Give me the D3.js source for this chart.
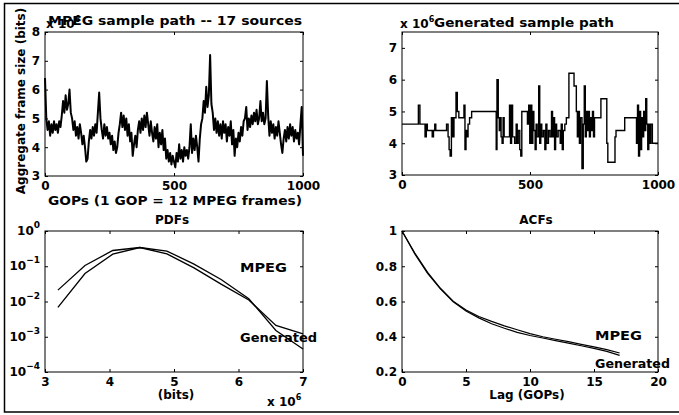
<!DOCTYPE html>
<html lang="en">
<head>
<meta charset="UTF-8">
<title>MPEG sample paths</title>
<script src="https://cdn.jsdelivr.net/npm/d3@7"></script>
<style>
  * { margin: 0; padding: 0; }
  body { background: #fff; }
  text { font-family: "DejaVu Sans", Arial, sans-serif; font-weight: bold; font-size: 12px; fill: #000; }
</style>
</head>
<body>
<script>
// MPEG aggregate frame size, one value every 5 GOPs (x 1e6 bits)
const mpegPath = [
  6.4, 5.0, 4.6, 4.9, 4.4, 4.8, 4.5, 4.9, 4.6, 4.8,
  4.5, 4.9, 4.7, 5.1, 5.6, 5.2, 5.8, 5.3, 5.5, 6.0,
  5.2, 5.0, 4.6, 4.9, 4.4, 4.7, 4.3, 4.8, 4.5, 4.1,
  4.4, 4.0, 3.5, 3.6, 4.2, 4.6, 4.3, 4.7, 4.4, 4.8,
  4.5, 5.2, 5.9, 5.0, 4.6, 4.3, 4.8, 4.4, 4.7, 4.3,
  4.5, 4.1, 4.4, 3.9, 4.2, 3.8, 4.0, 4.5, 4.8, 5.2,
  4.7, 5.1, 4.6, 5.0, 4.4, 4.8, 4.2, 4.5, 3.7, 4.1,
  4.4, 4.0, 4.6, 4.9, 4.5, 5.0, 4.6, 5.1, 4.7, 5.2,
  4.8, 4.4, 4.9, 4.5, 4.2, 4.7, 4.3, 4.8, 4.0, 4.5,
  4.1, 4.6, 3.9, 4.3, 3.6, 3.9, 3.5, 3.8, 3.4, 3.7,
  3.5, 3.3, 3.8, 3.5, 4.1, 3.6, 3.9, 3.5, 4.0, 3.7,
  3.9, 3.6, 4.0, 4.8, 3.8, 4.3, 3.9, 4.4, 4.0, 3.5,
  4.3, 4.8, 5.0, 5.6, 5.2, 6.1, 5.4, 5.8, 7.2, 5.5,
  5.2, 4.6, 5.0, 4.5, 4.9, 4.4, 4.8, 4.3, 4.9, 4.5,
  4.8, 4.2, 4.7, 4.4, 4.9, 4.1, 4.6, 3.7, 4.3, 4.0,
  4.5, 4.2, 4.7, 4.4, 4.9, 5.0, 5.4, 4.6, 5.0, 4.7,
  5.1, 4.8, 5.2, 4.9, 5.3, 4.8, 5.0, 5.6, 4.9, 5.2,
  4.8, 5.0, 6.3, 5.1, 4.4, 4.9, 4.5, 4.8, 4.3, 4.7,
  4.4, 4.9, 4.5, 4.1, 3.8, 4.3, 4.6, 4.2, 4.7, 4.3,
  4.8, 4.4, 4.7, 4.2, 4.6, 4.3, 4.5, 4.1, 4.8, 5.4,
  3.7
];
const mpegGop = d3.range(0, 1001, 5);

// generated path: GOP where a level starts, and the level (x 1e6 bits)
const genGop = [0, 64, 70, 90, 95, 99, 118, 123, 128, 132, 174, 180, 184, 188, 193, 198, 203, 211, 216, 222,
  242, 246, 250, 254, 258, 264, 272, 368, 371, 376, 380, 383, 387, 391, 395, 399, 420, 424, 428, 432,
  440, 446, 450, 454, 460, 464, 468, 490, 495, 499, 503, 507, 511, 515, 520, 524, 528, 534, 538, 542,
  546, 552, 558, 562, 566, 572, 578, 584, 588, 592, 596, 600, 604, 610, 618, 622, 626, 630, 636, 642,
  652, 672, 681, 685, 689, 693, 697, 703, 708, 712, 716, 720, 724, 728, 732, 736, 740, 744, 748, 752,
  777, 800, 804, 832, 836, 870, 916, 920, 924, 928, 932, 936, 940, 944, 948, 952, 956, 960, 964, 968,
  972, 978, 1000];
const genVal = [4.6, 5.2, 4.6, 4.2, 4.6, 4.4, 4.2, 4.4, 4.6, 4.4, 4.6, 4.2, 3.8, 3.6, 4.8, 4.2, 4.8, 5.6, 5.0, 4.8,
  5.2, 3.8, 4.4, 4.2, 4.6, 4.8, 5.0, 3.8, 6.0, 4.8, 4.4, 4.8, 4.2, 4.0, 4.8, 4.2, 5.2, 4.0, 5.2, 4.2,
  4.0, 4.6, 4.0, 4.4, 3.8, 3.6, 5.0, 4.6, 5.2, 4.0, 5.2, 4.0, 5.0, 4.4, 3.8, 4.6, 4.2, 5.8, 4.0, 4.6,
  4.2, 4.4, 3.8, 4.6, 4.0, 4.4, 4.2, 5.0, 4.2, 4.8, 3.8, 4.6, 4.2, 4.4, 4.0, 4.6, 3.8, 4.4, 4.6, 4.8,
  6.2, 5.8, 5.0, 4.2, 5.0, 4.0, 4.8, 3.2, 4.6, 5.8, 4.2, 5.0, 4.4, 5.0, 4.2, 4.8, 4.4, 5.0, 4.2, 4.8,
  5.4, 4.0, 3.4, 4.2, 4.4, 4.8, 4.0, 5.2, 3.6, 5.0, 3.8, 4.8, 4.2, 5.0, 4.4, 5.4, 4.6, 3.8, 4.6, 4.0,
  4.6, 4.0, 4.0];

// PDFs (bin centres in 1e6 bits)
const pdfBits = [3.2, 3.62, 4.05, 4.47, 4.89, 5.31, 5.73, 6.16, 6.58, 7.0];
const pdfMpeg = [0.021, 0.105, 0.28, 0.34, 0.225, 0.09, 0.031, 0.011, 0.0021, 0.0012];
const pdfGen = [0.0068, 0.062, 0.22, 0.34, 0.27, 0.115, 0.042, 0.012, 0.0015, 0.00045];

// ACFs
const acfLag = d3.range(0, 18);
const acfMpeg = [1, 0.875, 0.765, 0.675, 0.602, 0.552, 0.515, 0.487, 0.462, 0.44, 0.418, 0.4, 0.386, 0.372, 0.357, 0.343, 0.327, 0.308];
const acfGen = [1, 0.87, 0.76, 0.672, 0.598, 0.546, 0.507, 0.474, 0.448, 0.425, 0.407, 0.393, 0.378, 0.364, 0.349, 0.334, 0.317, 0.294];

// ticks
const pathXTicks = [0, 500, 1000];
const pathYTicks = [3, 4, 5, 6, 7, 8];
const genYTicks = [3, 4, 5, 6, 7];
const pdfXTicks = [3, 4, 5, 6, 7];
const pdfYTicks = [1e-4, 1e-3, 1e-2, 1e-1, 1];
const acfXTicks = [0, 5, 10, 15, 20];
const acfYTicks = [0.2, 0.4, 0.6, 0.8, 1];

const width = 679, height = 415;
const svg = d3.select("body").append("svg").attr("width", width).attr("height", height);

// outer frame (right edge is cut off in the scan)
svg.append("rect")
  .attr("x", 4.5).attr("y", 3.5).attr("width", 690).attr("height", 408.5)
  .attr("fill", "none").attr("stroke", "#000").attr("stroke-width", 1.5);

function panel(x0, x1, y0, y1, x, y, xt, yt, xfmt, yfmt) {
  x.range([x0, x1]);
  y.range([y1, y0]);
  const g = svg.append("g");
  g.append("g").attr("transform", `translate(0,${y1})`)
    .call(d3.axisBottom(x).tickValues(xt).tickSize(-3).tickPadding(5).tickFormat(xfmt));
  g.append("g").attr("transform", `translate(0,${y0})`)
    .call(d3.axisTop(x).tickValues(xt).tickSize(-3).tickFormat(""));
  g.append("g").attr("transform", `translate(${x0},0)`)
    .call(d3.axisLeft(y).tickValues(yt).tickSize(-3).tickPadding(5).tickFormat(yfmt));
  g.append("g").attr("transform", `translate(${x1},0)`)
    .call(d3.axisRight(y).tickValues(yt).tickSize(-3).tickFormat(""));
  g.selectAll(".domain").remove();
  g.selectAll(".tick line").attr("stroke", "#000");
  g.selectAll(".tick text").attr("font-size", null).attr("font-family", null);
  g.append("rect").attr("x", x0).attr("y", y0).attr("width", x1 - x0).attr("height", y1 - y0)
    .attr("fill", "none").attr("stroke", "#000").attr("stroke-width", 1);
  return g;
}

// text, optionally stretched to the width it has in the scan
function label(txt, x, y, len, anchor, rot, size) {
  const t = svg.append("text").attr("x", x).attr("y", y)
    .attr("text-anchor", anchor || "middle")
    .attr("font-size", size || "12.5px")
    .text(txt);
  if (len) t.attr("textLength", len).attr("lengthAdjust", "spacingAndGlyphs");
  if (rot) t.attr("transform", `rotate(${rot},${x},${y})`);
  return t;
}

function sci(x, y, exp) {
  const t = svg.append("text").attr("x", x).attr("y", y).attr("font-size", "10px");
  t.append("tspan").text("x 10");
  t.append("tspan").attr("dy", -6).attr("font-size", "8px").text(exp);
  return t;
}

// ---- top left: MPEG sample path
const x1s = d3.scaleLinear().domain([0, 1000]);
const y1s = d3.scaleLinear().domain([3, 8]);
panel(45, 303, 32, 176, x1s, y1s, pathXTicks, pathYTicks, d3.format("d"), d3.format("d"));
svg.append("path")
  .datum(mpegPath)
  .attr("fill", "none").attr("stroke", "#000").attr("stroke-width", 2)
  .attr("stroke-linejoin", "round")
  .attr("d", d3.line().x((d, i) => x1s(mpegGop[i])).y(d => y1s(d)));
sci(46, 28, "6");
label("MPEG sample path -- 17 sources", 48, 25, 254, "start");
label("GOPs (1 GOP = 12 MPEG frames)", 48, 205, 254, "start");
label("Aggregate frame size (bits)", 25, 101, null, "middle", -90, "11.2px");

// ---- top right: generated sample path
const x2s = d3.scaleLinear().domain([0, 1000]);
const y2s = d3.scaleLinear().domain([3, 7.5]);
panel(402, 658, 32, 175, x2s, y2s, pathXTicks, genYTicks, d3.format("d"), d3.format("d"));
svg.append("path")
  .datum(genVal)
  .attr("fill", "none").attr("stroke", "#000").attr("stroke-width", 1.4)
  .attr("d", d3.line().curve(d3.curveStepAfter).x((d, i) => x2s(genGop[i])).y(d => y2s(d)));
sci(400, 28, "6");
label("Generated sample path", 434, 27, 180, "start");

// ---- bottom left: PDFs
const x3s = d3.scaleLinear().domain([3, 7]);
const y3s = d3.scaleLog().domain([1e-4, 1]);
panel(45, 303, 231, 372, x3s, y3s, pdfXTicks, pdfYTicks, d3.format("d"), () => "");
pdfYTicks.forEach(v => {
  const e = Math.round(Math.log10(v));
  const t = svg.append("text").attr("x", 40).attr("y", y3s(v) + 4).attr("text-anchor", "end");
  t.append("tspan").text("10");
  t.append("tspan").attr("dy", -7).attr("font-size", "9px").text(e === 0 ? "0" : "\u2212" + Math.abs(e));
});
[pdfMpeg, pdfGen].forEach(s => {
  svg.append("path").datum(s)
    .attr("fill", "none").attr("stroke", "#000").attr("stroke-width", 1.3)
    .attr("d", d3.line().x((d, i) => x3s(pdfBits[i])).y(d => y3s(d)));
});
label("PDFs", 172, 224);
label("MPEG", 240, 272, 47, "start");
label("Generated", 240, 342, 77, "start");
label("(bits)", 176, 399);
sci(267, 406, "6");

// ---- bottom right: ACFs
const x4s = d3.scaleLinear().domain([0, 20]);
const y4s = d3.scaleLinear().domain([0.2, 1]);
panel(402, 658, 231, 372, x4s, y4s, acfXTicks, acfYTicks, d3.format("d"), d => d === 1 ? "1" : d3.format(".1f")(d));
[acfMpeg, acfGen].forEach(s => {
  svg.append("path").datum(s)
    .attr("fill", "none").attr("stroke", "#000").attr("stroke-width", 1.2)
    .attr("d", d3.line().x((d, i) => x4s(acfLag[i])).y(d => y4s(d)));
});
label("ACFs", 536, 224);
label("MPEG", 595, 340, 47, "start");
label("Generated", 595, 368, 75, "start");
label("Lag (GOPs)", 527, 399);
</script>
</body>
</html>
